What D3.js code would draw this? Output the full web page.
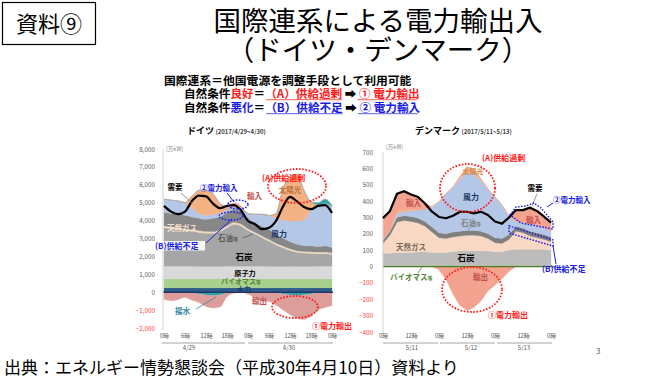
<!DOCTYPE html>
<html><head><meta charset="utf-8">
<script src="https://cdn.jsdelivr.net/npm/d3@7"></script>
<style>
body{margin:0;background:#fff}
svg{display:block}
text{font-family:"Noto Sans CJK JP","Noto Sans","DejaVu Sans",sans-serif}
</style>
</head><body>
<svg id="c" width="671" height="381"></svg>
<script>
// ---------------- DATA ----------------
// Germany (万kW), every 2 hours from 4/29 0時 to 5/1 0時
const deHours   = [0,2,4,6,8,10,12,14,16,18,20,22,24,26,28,30,32,34,36,38,40,42,44,46,48];
const deHydro   = [250,250,250,250,250,250,250,250,250,250,250,250,250,250,250,250,250,250,250,250,250,250,250,250,250];
const deBiomass = [500,500,500,500,500,500,500,500,500,500,500,500,500,500,500,500,500,500,500,500,500,500,500,500,500];
const deNuclear = [700,700,700,700,700,690,690,690,690,700,700,700,700,700,700,690,690,680,680,680,690,690,700,700,700];
const deCoal    = [2150,2100,2050,2000,1950,1900,1850,1850,1950,2150,2350,2250,2000,1800,1600,1400,1200,1050,900,800,750,730,700,700,650];
const deGas     = [110,110,100,100,100,100,100,100,100,110,110,110,100,100,100,100,100,100,100,90,90,90,90,90,90];
const deOil     = [740,740,750,750,700,690,680,740,730,740,730,730,590,540,550,570,490,450,400,360,330,330,310,340,310];
const deWind    = [750,740,750,700,500,260,220,210,170,150,60,110,260,460,650,780,910,1000,1150,1300,1430,2000,2350,2370,2300];
const deSolar   = [0,0,0,0,660,1300,1400,1150,550,50,0,0,0,0,0,0,250,1750,2500,2600,1650,450,0,0,0];
const dePumpGen = [0,0,0,0,0,0,0,0,0,0,50,30,0,0,0,0,0,0,0,0,0,0,100,250,50];
const deImport  = [0,0,0,0,0,0,0,0,0,200,250,150,0,0,0,0,0,0,0,0,0,0,0,0,0];
const dePumping = [50,50,30,30,50,100,150,200,150,50,0,0,0,0,0,0,50,100,150,200,150,100,50,30,0];
const deExport  = [350,430,390,270,400,480,650,680,680,200,60,30,100,320,500,520,670,900,1100,1250,1370,1250,950,820,750];
const deDemand  = [4820,4500,4360,4500,5100,5400,5350,4950,4690,4820,4870,4580,3980,3800,3520,3600,3980,4790,5330,5070,4760,4640,4820,4870,4430];
const deYTicks  = [8000,7000,6000,5000,4000,3000,2000,1000,0,-1000,-2000];
const deXTicks  = [0,6,12,18,24,30,36,42,48];
const deDates   = ["4/29","4/30"];

// Denmark (万kW), every 3 hours from 5/11 0時 to 5/14 0時
const dkHours   = [0,3,6,9,12,15,18,21,24,27,30,33,36,39,42,45,48,51,54,57,60,63,66,69,72];
const dkBiomass = [6,6,6,6,6,6,6,6,6,6,6,6,6,6,6,6,6,6,6,6,6,6,6,6,6];
const dkCoal    = [75,75,80,80,80,85,85,80,80,80,85,90,90,90,90,90,85,85,95,100,100,100,100,100,95];
const dkGas     = [60,110,185,195,190,175,155,125,90,85,90,90,95,95,90,75,55,50,65,110,100,80,70,60,50];
const dkOil     = [20,25,30,30,30,30,30,30,30,30,30,30,30,30,30,30,30,30,30,30,30,30,30,30,30];
const dkWind    = [5,5,25,25,35,50,75,125,190,245,275,320,355,345,310,275,250,205,110,30,35,45,45,40,35];
const dkSolar   = [0,0,10,15,10,0,0,0,0,0,0,15,35,30,10,0,0,0,0,0,0,0,0,0,0];
const dkImport  = [136,125,115,115,95,85,40,0,0,0,0,0,0,0,0,0,0,0,5,75,80,105,95,75,58];
const dkExport  = [0,0,0,0,0,0,0,0,20,80,170,240,268,250,210,150,115,75,30,0,0,0,0,0,0];
const dkDemand  = [296,340,445,460,440,425,385,335,303,295,310,335,335,325,335,315,275,262,300,345,345,360,340,305,268];
const dkYTicks  = [700,600,500,400,300,200,100,0,-100,-200,-300,-400];
const dkXTicks  = [0,12,24,36,48,60,72];
const dkDates   = ["5/11","5/12","5/13"];

// ---------------- DRAW ----------------
const svg = d3.select("#c");

function addText(g, x, y, str, o = {}) {
  return g.append("text").attr("x", x).attr("y", y).text(str)
    .attr("font-size", o.size || 8)
    .attr("fill", o.fill || "#000")
    .attr("font-weight", o.weight || "bold")
    .attr("text-anchor", o.anchor || "start");
}
function dotEllipse(cx, cy, rx, ry, color) {
  svg.append("ellipse").attr("cx", cx).attr("cy", cy).attr("rx", rx).attr("ry", ry)
    .attr("fill", "none").attr("stroke", color).attr("stroke-width", 1.8)
    .attr("stroke-dasharray", "1.6 1.6");
}
function leader(x1, y1, x2, y2, color, w) {
  svg.append("line").attr("x1", x1).attr("y1", y1).attr("x2", x2).attr("y2", y2)
    .attr("stroke", color).attr("stroke-width", w || 0.8);
}

function drawChart(o) {
  const g = svg.append("g");
  const x = d3.scaleLinear().domain(o.xDom).range(o.xRng);
  const y = d3.scaleLinear().domain(o.yDom).range(o.yRng);
  const rows = o.hours.map((h, i) => {
    const r = { h };
    o.pos.forEach(s => r[s.key] = s.values[i]);
    o.neg.forEach(s => r[s.key] = -s.values[i]);
    return r;
  });
  const posStack = d3.stack().keys(o.pos.map(s => s.key))(rows);
  const negStack = d3.stack().keys(o.neg.map(s => s.key))(rows);
  const area = d3.area().x(d => x(d.data.h)).y0(d => y(d[0])).y1(d => y(d[1])).curve(o.curve);
  const all = [...o.pos, ...o.neg];
  [...posStack, ...negStack].forEach((ser, i) => {
    g.append("path").attr("d", area(ser)).attr("fill", all[i].color)
      .attr("stroke", all[i].color).attr("stroke-width", 0.3);
  });
  g.append("line").attr("x1", o.axisX).attr("x2", o.zeroEnd).attr("y1", y(0)).attr("y2", y(0))
    .attr("stroke", o.zeroColor).attr("stroke-width", o.zeroWidth);
  g.append("line").attr("x1", o.axisX).attr("x2", o.axisX).attr("y1", y(o.yDom[1])).attr("y2", y(o.yDom[0]) + 2)
    .attr("stroke", "#d0d0d0").attr("stroke-width", 1);
  const line = d3.line().x((d, i) => x(o.hours[i])).y(d => y(d)).curve(o.lineCurve);
  g.append("path").attr("d", line(o.demand)).attr("fill", "none").attr("stroke", "#000")
    .attr("stroke-width", 2.2).attr("stroke-linejoin", "round");
  const ya = d3.axisLeft(y).tickValues(o.yTicks).tickSize(0).tickPadding(o.tickPad).tickFormat(d3.format(","));
  const yg = g.append("g").attr("transform", `translate(${o.axisX},0)`).call(ya);
  yg.select(".domain").remove();
  yg.selectAll("text").attr("font-size", 6.3).attr("font-family", null)
    .attr("fill", d => d < 0 ? "#ff4040" : "#595959");
  const xa = d3.axisBottom(x).tickValues(o.xTicks).tickSize(0).tickPadding(3).tickFormat(d => (d % 24) + "時");
  const xg = g.append("g").attr("transform", `translate(0,${o.xAxisY})`).call(xa);
  xg.select(".domain").remove();
  xg.selectAll("text").attr("font-size", 5.8).attr("font-family", null).attr("fill", "#595959");
  o.dateSegs.forEach((s, i) => {
    g.append("line").attr("x1", s[0]).attr("x2", s[1]).attr("y1", 343).attr("y2", 343)
      .attr("stroke", "#a6a6a6").attr("stroke-width", 1);
    addText(g, o.dateX[i], 350, o.dates[i], { size: 6, fill: "#595959", weight: "normal", anchor: "middle" });
  });
  addText(g, o.axisX + 3, o.unitY, "[万kW]", { size: 5.5, fill: "#7f7f7f", weight: "normal" });
  return { x, y };
}

// Germany
drawChart({
  hours: deHours, xDom: [0, 48], xRng: [164, 332], yDom: [-2000, 8000], yRng: [328, 149],
  curve: d3.curveMonotoneX, lineCurve: d3.curveMonotoneX,
  pos: [
    { key: "hydro", values: deHydro, color: "#2e5c8a" },
    { key: "biomass", values: deBiomass, color: "#a9d18e" },
    { key: "nuclear", values: deNuclear, color: "#d9d9d9" },
    { key: "coal", values: deCoal, color: "#a6a6a6" },
    { key: "gas", values: deGas, color: "#f0d8c0" },
    { key: "oil", values: deOil, color: "#878787" },
    { key: "wind", values: deWind, color: "#b4c7e7" },
    { key: "solar", values: deSolar, color: "#f4b183" },
    { key: "pumpGen", values: dePumpGen, color: "#2fa3a8" },
    { key: "import", values: deImport, color: "#e8a7a7" }
  ],
  neg: [
    { key: "pumping", values: dePumping, color: "#2fa3a8" },
    { key: "export", values: deExport, color: "#dc9d9b" }
  ],
  demand: deDemand, yTicks: deYTicks, xTicks: deXTicks, axisX: 163, tickPad: 8, xAxisY: 331,
  zeroEnd: 333, zeroColor: "#1f3864", zeroWidth: 1.5,
  dates: deDates, dateSegs: [[162, 245], [248, 333]], dateX: [189, 289], unitY: 151
});

// Denmark
drawChart({
  hours: dkHours, xDom: [0, 72], xRng: [383, 551], yDom: [-400, 700], yRng: [332, 152],
  curve: d3.curveLinear, lineCurve: d3.curveLinear,
  pos: [
    { key: "biomass", values: dkBiomass, color: "#70ad47" },
    { key: "coal", values: dkCoal, color: "#bcbcbc" },
    { key: "gas", values: dkGas, color: "#f9d9c3" },
    { key: "oil", values: dkOil, color: "#7f7f7f" },
    { key: "wind", values: dkWind, color: "#b4c7e7" },
    { key: "solar", values: dkSolar, color: "#f4b183" },
    { key: "import", values: dkImport, color: "#f4a391" }
  ],
  neg: [
    { key: "export", values: dkExport, color: "#f4a391" }
  ],
  demand: dkDemand, yTicks: dkYTicks, xTicks: dkXTicks, axisX: 383, tickPad: 10, xAxisY: 331,
  zeroEnd: 555, zeroColor: "#4f7a2a", zeroWidth: 1.2,
  dates: dkDates, dateSegs: [[383, 438], [440, 495], [497, 552]], dateX: [412, 471, 524], unitY: 149
});

// ---------------- HEADER ----------------
svg.append("rect").attr("x", 2.5).attr("y", 2.5).attr("width", 93).attr("height", 42)
  .attr("fill", "none").attr("stroke", "#000").attr("stroke-width", 1.2);
addText(svg, 49, 32, "資料⑨", { size: 22, weight: "normal", anchor: "middle" });
addText(svg, 378, 30.5, "国際連系による電力輸出入", { size: 27.5, weight: "normal", anchor: "middle" });
addText(svg, 378, 60, "（ドイツ・デンマーク）", { size: 27.5, weight: "normal", anchor: "middle" });

addText(svg, 164, 84.5, "国際連系＝他国電源を調整手段として利用可能", { size: 11.8 });

function richLine(x0, y0, parts) {
  const t = svg.append("text").attr("x", x0).attr("y", y0).attr("font-size", 11.6).attr("font-weight", "bold");
  let cx = x0;
  parts.forEach(p => {
    const ts = t.append("tspan").text(p.s).attr("fill", p.c);
    const w = ts.node().getComputedTextLength();
    if (p.u) {
      svg.append("line").attr("x1", cx + 1).attr("x2", cx + w).attr("y1", y0 + 2.2).attr("y2", y0 + 2.2)
        .attr("stroke", p.c).attr("stroke-width", 1).attr("opacity", 0.7);
    }
    cx += w;
  });
}
const RED = "#ff1a1a", BLUE = "#1a1ae6";
richLine(184, 97.5, [
  { s: "自然条件", c: "#000" }, { s: "良好", c: RED }, { s: "＝", c: "#000" },
  { s: "（A）供給過剰", c: RED, u: true }, { s: "  ➡  ", c: "#000" }, { s: "① 電力輸出", c: RED, u: true }
]);
richLine(184, 111.5, [
  { s: "自然条件", c: "#000" }, { s: "悪化", c: BLUE }, { s: "＝", c: "#000" },
  { s: "（B）供給不足", c: BLUE, u: true }, { s: "  ➡  ", c: "#000" }, { s: "② 電力輸入", c: BLUE, u: true }
]);

// chart titles
(function () {
  const t1 = svg.append("text").attr("x", 187).attr("y", 134).attr("font-weight", "bold");
  t1.append("tspan").text("ドイツ").attr("font-size", 9);
  t1.append("tspan").text(" (2017/4/29~4/30)").attr("font-size", 6).attr("fill", "#404040");
  const t2 = svg.append("text").attr("x", 415).attr("y", 134).attr("font-weight", "bold");
  t2.append("tspan").text("デンマーク").attr("font-size", 9);
  t2.append("tspan").text(" (2017/5/11~5/13)").attr("font-size", 6).attr("fill", "#404040");
})();

// ---------------- GERMANY ANNOTATIONS ----------------
addText(svg, 175, 190, "需要", { size: 7.5, anchor: "middle" });
leader(181, 193, 192, 203, "#7f7f7f");
addText(svg, 200, 191, "②電力輸入", { size: 7.5, fill: BLUE });
leader(227, 193, 234, 202, BLUE, 1);
svg.append("ellipse").attr("cx", 238).attr("cy", 204.5).attr("rx", 10).attr("ry", 4.5)
  .attr("fill", "none").attr("stroke", BLUE).attr("stroke-width", 1.5).attr("stroke-dasharray", "1.5 1.5");
svg.append("ellipse").attr("cx", 231).attr("cy", 216).attr("rx", 12).attr("ry", 4)
  .attr("fill", "none").attr("stroke", BLUE).attr("stroke-width", 1.5).attr("stroke-dasharray", "1.5 1.5");
addText(svg, 247, 199, "輸入", { size: 7.5, fill: "#c0504d" });
addText(svg, 290, 193, "太陽光", { size: 7.5, fill: "#b8733f", anchor: "middle" });
addText(svg, 262, 181, "(A)供給過剰", { size: 8, fill: RED });
dotEllipse(297, 186, 29, 17, RED);
addText(svg, 279, 237, "風力", { size: 8, fill: "#1f3864", anchor: "middle" });
addText(svg, 167, 231, "天然ガス", { size: 7.5, fill: "#f2dfcb" });
(function () {
  const t = svg.append("text").attr("x", 218).attr("y", 241).attr("font-weight", "bold").attr("fill", "#595959");
  t.append("tspan").text("石油").attr("font-size", 7.5);
  t.append("tspan").text("等").attr("font-size", 5);
})();
leader(243, 238, 253, 234, "#595959");
svg.append("rect").attr("x", 154).attr("y", 241).attr("width", 51).attr("height", 9.5).attr("fill", "#fff").attr("opacity", 0.9);
addText(svg, 155, 248.5, "(B)供給不足", { size: 8, fill: BLUE });
leader(206, 243, 232, 219, BLUE, 1);
addText(svg, 244, 260, "石炭", { size: 8.5, anchor: "middle" });
addText(svg, 245, 275.5, "原子力", { size: 7.2, anchor: "middle" });
(function () {
  const t = svg.append("text").attr("x", 221).attr("y", 284).attr("font-weight", "bold").attr("fill", "#548235");
  t.append("tspan").text("バイオマス").attr("font-size", 7);
  t.append("tspan").text("等").attr("font-size", 4.8);
})();
addText(svg, 244, 292, "水力", { size: 7, fill: "#1f3864", anchor: "middle" });
addText(svg, 252, 304, "輸出", { size: 7.5, fill: "#c0504d" });
addText(svg, 175, 314, "揚水", { size: 7.5, fill: "#31859c" });
leader(196, 309, 216, 297, "#31859c");
dotEllipse(295, 307, 23, 11, RED);
addText(svg, 312, 329, "①電力輸出", { size: 8, fill: RED });

// ---------------- DENMARK ANNOTATIONS ----------------
addText(svg, 535, 191, "需要", { size: 7.5, anchor: "middle" });
leader(537, 194, 532, 206, "#7f7f7f");
addText(svg, 553, 203, "②電力輸入", { size: 7.5, fill: BLUE });
leader(553, 203, 547, 207, BLUE, 1);
svg.append("path").attr("d", "M510,215 L516,207 L526,206 L534,203 L541,208 L553,222 L553,229 L521,223 Z")
  .attr("fill", "none").attr("stroke", BLUE).attr("stroke-width", 1.5).attr("stroke-dasharray", "1.5 1.5");
svg.append("path").attr("d", "M509,226 L553,240 L553,246 L509,233 Z")
  .attr("fill", "none").attr("stroke", BLUE).attr("stroke-width", 1.5).attr("stroke-dasharray", "1.5 1.5");
addText(svg, 482, 161, "(A)供給過剰", { size: 8, fill: RED });
dotEllipse(467.5, 188, 27.5, 24, RED);
addText(svg, 473, 174, "太陽光", { size: 7, fill: "#d08a50", anchor: "middle" });
addText(svg, 471, 200, "風力", { size: 8, fill: "#1f3864", anchor: "middle" });
addText(svg, 406, 206, "輸入", { size: 7.5, fill: "#c0504d" });
(function () {
  const t = svg.append("text").attr("x", 461).attr("y", 226).attr("font-weight", "bold").attr("fill", "#7f7f7f");
  t.append("tspan").text("石油").attr("font-size", 7.5);
  t.append("tspan").text("等").attr("font-size", 5);
})();
leader(470, 228, 466, 233, "#7f7f7f");
addText(svg, 396, 250, "天然ガス", { size: 7.5, fill: "#7a6a5a" });
addText(svg, 466, 261, "石炭", { size: 8.5, anchor: "middle" });
addText(svg, 526, 223, "輸入", { size: 7.5, fill: "#c0504d" });
addText(svg, 542, 272, "(B)供給不足", { size: 8, fill: BLUE });
leader(553, 246, 556, 264, BLUE, 1);
addText(svg, 473, 280, "輸出", { size: 7.5, fill: "#c0504d" });
dotEllipse(472, 289.5, 30, 22.5, RED);
addText(svg, 488, 318, "①電力輸出", { size: 8, fill: RED });
(function () {
  const t = svg.append("text").attr("x", 390).attr("y", 280).attr("font-weight", "bold").attr("fill", "#548235");
  t.append("tspan").text("バイオマス").attr("font-size", 7.5);
  t.append("tspan").text("等").attr("font-size", 5);
})();
leader(418, 273, 422, 267, "#548235");

// ---------------- FOOTER ----------------
addText(svg, 4, 374, "出典：エネルギー情勢懇談会（平成30年4月10日）資料より", { size: 17, weight: "normal" });
addText(svg, 596, 354, "3", { size: 8, fill: "#595959", weight: "normal" });
</script>
</body></html>
